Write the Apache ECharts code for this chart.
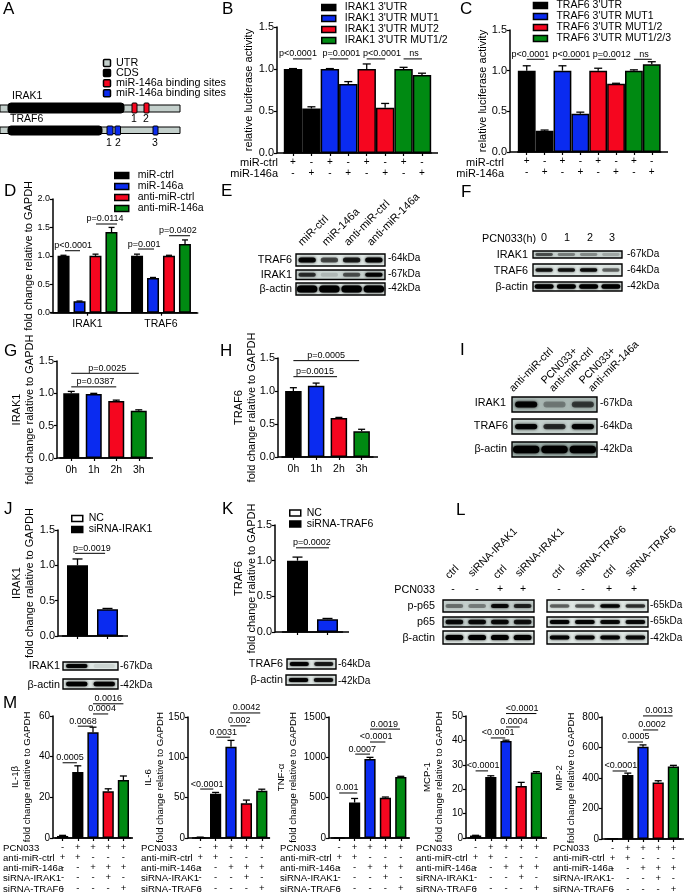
<!DOCTYPE html>
<html><head><meta charset="utf-8">
<style>html,body{margin:0;padding:0;background:#fff}#c{width:685px;height:894px}</style>
<script src="https://cdn.jsdelivr.net/npm/echarts@6/dist/echarts.min.js"></script>
</head><body><div id="c"></div>
<script>
// ---------- colours ----------
const BLACK='#000000', BLUE='#0a2bf0', RED='#f5061f', GREEN='#008a12', GREY='#808080';
const FONT='"Liberation Sans", Arial, sans-serif';

// ---------- B ----------
const bSeries=["IRAK1 3'UTR","IRAK1 3'UTR MUT1","IRAK1 3'UTR MUT2","IRAK1 3'UTR MUT1/2"];
const bValues=[1.0,0.53,1.0,0.82,1.0,0.54,1.0,0.93];
const bErrors=[0.005,0.02,0.005,0.03,0.06,0.05,0.02,0.02];
const bMiRCtrl=['+','-','+','-','+','-','+','-'];
const bMiR146a=['-','+','-','+','-','+','-','+'];
const bBrackets=[[0,1,1.12,'p<0.0001',0.27],[2,3,1.12,'p=0.0001',2.63],[4,5,1.12,'p<0.0001',4.83],[6,7,1.12,'ns',6.57]];
// ---------- C ----------
const cSeries=["TRAF6 3'UTR","TRAF6 3'UTR MUT1","TRAF6 3'UTR MUT1/2","TRAF6 3'UTR MUT1/2/3"];
const cValues=[1.0,0.26,1.0,0.47,1.0,0.84,1.0,1.08];
const cErrors=[0.06,0.01,0.06,0.02,0.03,0.005,0.01,0.03];
const cBrackets=[[0,1,1.14,'p<0.0001',0.2],[2,3,1.14,'p<0.0001',2.5],[4,5,1.14,'p=0.0012',4.76],[6,7,1.14,'ns',6.57]];
// ---------- D ----------
const dSeries=['miR-ctrl','miR-146a','anti-miR-ctrl','anti-miR-146a'];
const dCategories=['IRAK1','TRAF6'];
const dMiRCtrl=[1.0,1.0], dMiR146a=[0.2,0.61], dAntiCtrl=[1.0,1.0], dAnti146a=[1.42,1.21];
const dErrMiRCtrl=[0.01,0.03], dErrMiR146a=[0.005,0.01], dErrAntiCtrl=[0.03,0.01], dErrAnti146a=[0.08,0.07];
const dBrackets=[[-0.306,-0.102,1.09,'p<0.0001',-0.197],[0.116,0.401,1.56,'p=0.0114',0.238],[0.687,0.905,1.12,'p=0.001',0.769],[1.109,1.395,1.354,'p=0.0402',1.231]];
// ---------- G, H ----------
const timeLabels=['0h','1h','2h','3h'];
const gValues=[1.0,0.99,0.88,0.73], gErrors=[0.03,0.01,0.015,0.015];
const gBrackets=[[0,2,1.10,'p=0.0387',1.07],[0,3,1.31,'p=0.0025',1.6]];
const hValues=[1.0,1.08,0.59,0.39], hErrors=[0.05,0.04,0.01,0.03];
const hBrackets=[[0,1.92,1.217,'p=0.0015',0.95],[0,2.89,1.46,'p=0.0005',1.44]];
// ---------- J, K ----------
const jSeries=['NC','siRNA-IRAK1'], kSeries=['NC','siRNA-TRAF6'];
const jValues=[1.0,0.38], jErrors=[0.09,0.01];
const jBrackets=[[-0.08,0.92,1.17,'p=0.0019',0.48]];
const kValues=[1.0,0.18], kErrors=[0.05,0.01];
const kBrackets=[[-0.05,1.05,1.18,'p=0.0002',0.48]];
// ---------- M ----------
const mRowNames=['PCN033','anti-miR-ctrl','anti-miR-146a','siRNA-IRAK1','siRNA-TRAF6'];
const mPCN033=['-','+','+','+','+'];
const mAntiCtrl=['+','+','-','-','-'];
const mAnti146a=['-','-','+','+','+'];
const mSiIRAK1=['-','-','-','+','-'];
const mSiTRAF6=['-','-','-','-','+'];
const il1bValues=[1,32.5,52,23,28.5], il1bErrors=[0.3,3,2.5,1.2,2];
const il1bBrackets=[[0,0.94,37,'0.0005',0.48],[1,2,55,'0.0068',1.34],[2,3,61,'0.0004',2.6],[2,4,66,'0.0016',3]];
const il6Values=[0.8,55,113,43,58.5], il6Errors=[0.3,1.5,8,4,2];
const il6Brackets=[[0,0.85,60.7,'<0.0001',0.45],[1.04,1.95,125,'0.0031',1.5],[1.95,3,139,'0.002',2.53],[1.95,3.9,155,'0.0042',3]];
const tnfValues=[2,440,980,500,755], tnfErrors=[0,50,20,8,10];
const tnfBrackets=[[0,1.17,558,'0.001',0.52],[1.04,2,1040,'0.0007',1.5],[2,3,1190,'<0.0001',2.4],[2,3.95,1350,'0.0019',2.92]];
const mcpValues=[1,25,39.8,21.3,26.8], mcpErrors=[0.1,0.5,0.3,1.5,0.4];
const mcpBrackets=[[0,0.82,27.5,'<0.0001',0.5],[1,1.95,41,'<0.0001',1.48],[2,2.9,45.5,'0.0004',2.53],[2,4,51,'<0.0001',3.06]];
const mipValues=[2,420,605,370,475], mipErrors=[0,12,12,12,8];
const mipBrackets=[[0,0.95,446,'<0.0001',0.55],[1,2,636,'0.0005',1.53],[2,3,715,'0.0002',2.59],[2,3.95,807,'0.0013',3.05]];
// ---------- blot band strengths ----------
const eTRAF6=[0.95,0.6,0.8,0.95], eIRAK1=[0.7,0.12,0.55,0.95], eActin=[1,1,1,1];
const fIRAK1=[0.55,0.35,0.3,0.18], fTRAF6=[0.85,0.85,0.9,0.5], fActin=[1,1,1,1];
const iIRAK1=[0.95,0.3,0.6], iTRAF6=[0.95,0.7,0.95], iActin=[1,1,1];
const jbIRAK1=[0.95,0.08], jbActin=[1,0.95];
const kbTRAF6=[0.95,0.8], kbActin=[0.95,0.85];
const lLeftP=[0.4,0.35,0.9,0.75], lLeftT=[0.9,0.9,0.9,0.85], lLeftA=[1,1,1,1];
const lRightP=[0.5,0.55,0.95,0.7], lRightT=[0.95,0.95,0.9,0.9], lRightA=[0.95,0.95,0.95,0.9];
const lPCN=['-','-','+','+'];

// ---------- builders ----------
const grid=[],xAxis=[],yAxis=[],series=[],legend=[],gfx=[];
const txt=(text,x,y,size,align,extra)=>gfx.push(Object.assign({type:'text',x,y,silent:true,style:{text,fontSize:size,fontFamily:FONT,fill:'#000',align:align||'left',verticalAlign:'middle'}},extra||{}));
const zip=(...rows)=>rows[0].map((_,i)=>rows.map(r=>r[i]).join('\n'));

function panel(p){
  const k=grid.length;
  grid.push({left:p.left,width:p.width,top:p.top,height:p.bottom-p.top,containLabel:false});
  const fx=p.tickSize||11;
  xAxis.push({type:'category',gridIndex:k,data:p.categories,
    axisLine:{lineStyle:{color:'#000',width:1.5}},
    axisTick:{show:true,alignWithLabel:true,length:3,lineStyle:{color:'#000',width:1.2}},
    axisLabel:{interval:0,color:'#000',fontFamily:FONT,fontSize:p.xFont||10.5,lineHeight:p.xLine||12,margin:p.xMargin||5}});
  yAxis.push({type:'value',gridIndex:k,min:0,max:p.max,interval:p.interval,offset:p.left-p.axisX,
    name:p.name,nameLocation:'middle',nameRotate:90,nameGap:p.nameGap,nameMoveOverlap:false,
    nameTextStyle:{color:'#000',fontFamily:FONT,fontSize:p.nameFont||11,lineHeight:p.nameLine||13},
    axisLine:{show:true,lineStyle:{color:'#000',width:1.5}},
    axisTick:{show:true,length:3,lineStyle:{color:'#000',width:1.2}},
    splitLine:{show:false},
    axisLabel:{color:'#000',fontFamily:FONT,fontSize:fx,margin:3,formatter:v=>p.decimals?v.toFixed(p.decimals):String(v)}});
  // bars
  (p.barSeries).forEach(s=>series.push({type:'bar',name:s.name,xAxisIndex:k,yAxisIndex:k,data:s.data,
    barWidth:p.barWidth,barGap:p.barGap,silent:true,
    itemStyle:{color:s.color,borderColor:'#000',borderWidth:p.border||1.5}}));
  const custom=(data,render)=>series.push({type:'custom',xAxisIndex:k,yAxisIndex:k,data:data.map(()=>[0,0]),encode:{x:0,y:1},clip:false,silent:true,renderItem:render,z:5});
  // error bars: [x in category units, value, err]
  custom(p.errors,(params,api)=>{
    const e=p.errors[params.dataIndex]; if(!e[2]) return;
    const band=api.size([1,0])[0], x=api.coord([0,0])[0]+e[0]*band;
    const y0=api.coord([0,e[1]])[1], y1=api.coord([0,e[1]+e[2]])[1], c=p.cap||4;
    const st={stroke:'#000',lineWidth:1.3};
    return {type:'group',children:[
      {type:'line',shape:{x1:x,y1:y0,x2:x,y2:y1},style:st},
      {type:'line',shape:{x1:x-c,y1:y1,x2:x+c,y2:y1},style:st}]};
  });
  // brackets: [from, to, level, text, label position]
  custom(p.brackets,(params,api)=>{
    const b=p.brackets[params.dataIndex];
    const band=api.size([1,0])[0], x0=api.coord([0,0])[0];
    const y=api.coord([0,b[2]])[1];
    return {type:'group',children:[
      {type:'line',shape:{x1:x0+b[0]*band,y1:y,x2:x0+b[1]*band,y2:y},style:{stroke:'#000',lineWidth:1}},
      {type:'text',x:x0+b[4]*band,y:y-0.5,style:{text:b[3],fontSize:p.pFont||9,fontFamily:FONT,fill:'#000',align:'center',verticalAlign:'bottom'}}]};
  });
  // x-axis line run-on past the first and last bar
  custom([0],(params,api)=>{
    const c=params.coordSys;
    return {type:'line',shape:{x1:p.axisX,y1:c.y+c.height,x2:p.axisEnd,y2:c.y+c.height},style:{stroke:'#000',lineWidth:1.5}};
  });
  if(p.legend) legend.push({left:p.legend.left,top:p.legend.top,orient:'vertical',padding:0,itemGap:p.legend.gap||0,icon:'rect',itemWidth:p.legend.w||14,itemHeight:p.legend.h||6,selectedMode:false,
    textStyle:{color:'#000',fontFamily:FONT,fontSize:p.legend.font||10.5,lineHeight:p.legend.line||9.2,padding:[0,0,0,p.legend.textGap||4]},
    itemStyle:{borderColor:'#000',borderWidth:1.5},
    data:p.legend.items});
}
const pick=(vals,colorAt,names)=>names.map((n,s)=>({name:n,color:colorAt(s),data:vals.map((v,i)=>Math.floor(i/(vals.length/names.length))===s?v:null)}));
const errs=(vals,er)=>vals.map((v,i)=>[i,v,er[i]]);
const FOUR=[BLACK,BLUE,RED,GREEN];

// ---------- B ----------
panel({left:283.8,width:147.4,top:27,bottom:153,axisX:277,axisEnd:438,max:1.5,interval:0.5,decimals:1,
  categories:zip(bMiRCtrl,bMiR146a),xLine:10.5,xFont:10,xMargin:4,
  name:'relative luciferase activity',nameGap:22,barWidth:18.4,barGap:'-100%',
  barSeries:pick(bValues,s=>FOUR[s],bSeries),errors:errs(bValues,bErrors),brackets:bBrackets,
  legend:{left:321,top:2,items:bSeries.map(name=>({name}))}});
txt('miR-ctrl',278,163,11,'right'); txt('miR-146a',278,174,11,'right');
// ---------- C ----------
panel({left:517.8,width:142.9,top:30,bottom:152,axisX:510,axisEnd:668,max:1.5,interval:0.5,decimals:1,
  categories:zip(bMiRCtrl,bMiR146a),xLine:10.5,xFont:10,xMargin:4,
  name:'relative luciferase activity',nameGap:21,barWidth:17.8,barGap:'-100%',
  barSeries:pick(cValues,s=>FOUR[s],cSeries),errors:errs(cValues,cErrors),brackets:cBrackets,
  legend:{left:532.7,top:0,items:cSeries.map(name=>({name}))}});
txt('miR-ctrl',504,163,11,'right'); txt('miR-146a',504,174,11,'right');
// ---------- D ----------
const dOff=[-0.327,-0.109,0.109,0.327];
const dAll=[dMiRCtrl,dMiR146a,dAntiCtrl,dAnti146a], dErr=[dErrMiRCtrl,dErrMiR146a,dErrAntiCtrl,dErrAnti146a];
panel({left:50.75,width:147,top:199,bottom:312.7,axisX:53,axisEnd:197,max:2,interval:0.5,decimals:1,tickSize:9,
  categories:dCategories,xFont:10.5,xMargin:5,cap:3,
  name:'fold change relative to GAPDH',nameGap:18,barWidth:12,barGap:'33%',border:1.5,
  barSeries:dSeries.map((n,s)=>({name:n,color:FOUR[s],data:dAll[s]})),
  errors:dAll.flatMap((vals,s)=>vals.map((v,i)=>[i+dOff[s],v,dErr[s][i]])),brackets:dBrackets,
  legend:{left:114,top:170,line:9.7,items:dSeries.map(name=>({name}))}});
// ---------- G ----------
const eachBar=(vals,cols)=>vals.map((v,s)=>({name:'',color:cols[s],data:vals.map((w,i)=>i===s?w:null)}));
panel({left:60,width:90,top:361,bottom:458,axisX:57,axisEnd:153,max:1.5,interval:0.5,decimals:1,
  categories:timeLabels,xFont:10.5,xMargin:6,cap:3.5,
  name:'IRAK1\nfold change ralative to GAPDH',nameGap:21,barWidth:16,barGap:'-100%',
  barSeries:eachBar(gValues,FOUR),errors:errs(gValues,gErrors),brackets:gBrackets});
// ---------- H ----------
panel({left:282,width:91,top:358,bottom:457,axisX:278,axisEnd:378,max:1.5,interval:0.5,decimals:1,
  categories:timeLabels,xFont:10.5,xMargin:6,cap:3.5,
  name:'TRAF6\nfold change ralative to GAPDH',nameGap:20,barWidth:16.5,barGap:'-100%',
  barSeries:eachBar(hValues,FOUR),errors:errs(hValues,hErrors),brackets:hBrackets});
// ---------- J ----------
panel({left:62.5,width:60,top:530,bottom:636,axisX:58,axisEnd:128,max:1.5,interval:0.5,decimals:1,
  categories:['',''],cap:5,
  name:'IRAK1\nfold change ralative to GAPDH',nameGap:22,barWidth:21,barGap:'-100%',
  barSeries:pick(jValues,s=>[BLACK,BLUE][s],jSeries),errors:errs(jValues,jErrors),brackets:jBrackets,
  legend:{left:71,top:513,w:11,h:6,line:10,textGap:1,items:[{name:'NC',itemStyle:{color:'#fff',borderColor:'#000',borderWidth:1.5}},{name:'siRNA-IRAK1',itemStyle:{color:'#000',borderColor:'#000'}}]}});
// ---------- K ----------
panel({left:282.5,width:60,top:525,bottom:632,axisX:275,axisEnd:349,max:1.5,interval:0.5,decimals:1,
  categories:['',''],cap:5,
  name:'TRAF6\nfold change ralative to GAPDH',nameGap:17,barWidth:21,barGap:'-100%',
  barSeries:pick(kValues,s=>[BLACK,BLUE][s],kSeries),errors:errs(kValues,kErrors),brackets:kBrackets,
  legend:{left:289,top:507.5,w:11,h:6,line:10.5,textGap:1,items:[{name:'NC',itemStyle:{color:'#fff',borderColor:'#000',borderWidth:1.5}},{name:'siRNA-TRAF6',itemStyle:{color:'#000',borderColor:'#000'}}]}});
// ---------- M ----------
const FIVE=[GREY,BLACK,BLUE,RED,GREEN];
const mCats=zip(mPCN033,mAntiCtrl,mAnti146a,mSiIRAK1,mSiTRAF6);
function mPanel(o){
  panel({left:o.left,width:o.width,top:o.top,bottom:o.bottom,axisX:o.axisX,axisEnd:o.axisEnd,max:o.max,interval:o.interval,
    categories:mCats,xFont:9.5,xLine:10.2,xMargin:4,tickSize:10,cap:3.5,pFont:9,
    name:o.title+'\nfold change relative to GAPDH',nameGap:o.nameGap,nameFont:9.6,nameLine:12,barWidth:11.2,barGap:'-100%',
    barSeries:eachBar(o.values,FIVE),errors:errs(o.values,o.errors),brackets:o.brackets});
  mRowNames.forEach((n,i)=>txt(n,o.rowX,848.5+i*10.1,9.6));
}
mPanel({left:55,width:76,top:716,bottom:838,axisX:53,axisEnd:133,max:60,interval:20,title:'IL-1β',values:il1bValues,errors:il1bErrors,brackets:il1bBrackets,nameGap:20,rowX:3});
mPanel({left:192.5,width:77,top:717,bottom:838,axisX:188,axisEnd:270,max:150,interval:50,title:'IL-6',values:il6Values,errors:il6Errors,brackets:il6Brackets,nameGap:22,rowX:141});
mPanel({left:331.5,width:77,top:717,bottom:838,axisX:329,axisEnd:410,max:1500,interval:500,title:'TNF-α',values:tnfValues,errors:tnfErrors,brackets:tnfBrackets,nameGap:30,rowX:280});
mPanel({left:468,width:76,top:716,bottom:838,axisX:466,axisEnd:547,max:50,interval:10,title:'MCP-1',values:mcpValues,errors:mcpErrors,brackets:mcpBrackets,nameGap:21,rowX:416});
mPanel({left:605,width:76,top:717,bottom:839,axisX:602,axisEnd:684,max:800,interval:200,title:'MIP-2',values:mipValues,errors:mipErrors,brackets:mipBrackets,nameGap:25,rowX:553});

// ---------- panel letters ----------
[['A',3,9],['B',222,9],['C',460,9],['D',4,191],['E',221,191],['F',461,192],['G',4,351],['H',220,351],['I',460,350],['J',4,509],['K',222,509],['L',456,510],['M',3,703]]
  .forEach(l=>txt(l[0],l[1],l[2],17));

// ---------- panel A: gene diagram ----------
const rect=(x,y,w,h,fill,r,lw)=>gfx.push({type:'rect',silent:true,shape:{x,y,width:w,height:h,r:r||0},style:{fill,stroke:'#000',lineWidth:lw===undefined?1:lw}});
[['UTR','#c3cfcb'],['CDS','#000'],['miR-146a binding sites',RED],['miR-146a binding sites',BLUE]].forEach((l,i)=>{
  rect(103.5,59.5+i*10.1,7,7,l[1],1,1.5); txt(l[0],116,63+i*10.1,10.8);
});
txt('IRAK1',12,96,10.5); txt('TRAF6',10,119,10.5);
rect(0,105,180,7,'#c3cfcb');
rect(8,103,116,10,'#000',3);
rect(132,103,5,10,RED,1); rect(144,103,5,10,RED,1);
txt('1',134,119,10.5,'center'); txt('2',146,119,10.5,'center');
rect(0,127,180,6.5,'#c3cfcb');
rect(8,126,94,9,'#000',3);
rect(107,126,6,9,BLUE,1); rect(115,126,5.5,9,BLUE,1); rect(153,126,5,9,BLUE,1);
txt('1',109,143,10.5,'center'); txt('2',118,143,10.5,'center'); txt('3',155,143,10.5,'center');

// ---------- western blots ----------
function blot(x1,y1,x2,y2,bands,o){
  o=o||{};
  const w=x2-x1,h=y2-y1,n=bands.length,lane=w/n;
  gfx.push({type:'rect',silent:true,shape:{x:x1,y:y1,width:w,height:h},style:{fill:o.bg||'#dfe7e4',stroke:'none'}});
  bands.forEach((a,i)=>{
    const bw=lane*(o.bw||0.78),bh=h*(o.bh||0.42);
    gfx.push({type:'rect',silent:true,shape:{x:x1+lane*(i+0.5)-bw/2,y:y1+h/2-bh/2,width:bw,height:bh,r:bh/2},
      style:{fill:`rgba(0,0,0,${a})`,shadowBlur:3,shadowColor:`rgba(0,0,0,${a})`}});
  });
  gfx.push({type:'rect',silent:true,shape:{x:x1,y:y1,width:w,height:h},style:{fill:'none',stroke:'#000',lineWidth:1.4}});
}
const rot=(text,x,y,size)=>txt(text,x,y,size||11,'left',{rotation:Math.PI/4,style:{text,fontSize:size||11,fontFamily:FONT,fill:'#000',align:'left',verticalAlign:'bottom'}});

// E
blot(296,254,385,266,eTRAF6); blot(296,270,385,279.5,eIRAK1,{bg:'#c9d3d0'}); blot(296,283,385,295,eActin,{bh:0.6,bw:0.92});
txt('TRAF6',292,260,10.8,'right'); txt('IRAK1',292,275,10.8,'right'); txt('β-actin',292,289,10.8,'right');
txt('-64kDa',388,258.5,10,'left'); txt('-67kDa',388,274,10); txt('-42kDa',388,288,10);
rot('miR-ctrl',304,248); rot('miR-146a',328,248); rot('anti-miR-ctrl',350,248); rot('anti-miR-146a',373,248);
// F
blot(533,251,622,258,fIRAK1,{bg:'#c6d0cd',bh:0.4}); blot(533,264,622,276,fTRAF6,{bh:0.28}); blot(533,282,622,291,fActin,{bh:0.5,bw:0.85});
txt('IRAK1',528,255,10.8,'right'); txt('TRAF6',528,271,10.8,'right'); txt('β-actin',528,287,10.8,'right');
txt('-67kDa',627,254,10); txt('-64kDa',627,270,10); txt('-42kDa',627,286,10);
txt('PCN033(h)',482,239,10.8);
[['0',544],['1',567],['2',590],['3',612]].forEach(t=>txt(t[0],t[1],238,10.8,'center'));
// I
blot(512,397,597,412,iIRAK1,{bg:'#a9b7b3',bh:0.4}); blot(512,419,597,434,iTRAF6,{bh:0.35,bg:'#c4d0cc'}); blot(512,442,597,457,iActin,{bh:0.5,bw:0.93,bg:'#9fb0ab'});
txt('IRAK1',506,403,10.8,'right'); txt('TRAF6',508,426,10.8,'right'); txt('β-actin',507,449,10.8,'right');
txt('-67kDa',600,403,10); txt('-64kDa',600,426,10); txt('-42kDa',600,449,10);
rot('anti-miR-ctrl',515,394,10.6); rot('PCN033+',547,386,10.6); rot('anti-miR-ctrl',555,394,10.6); rot('PCN033+',585,386,10.6); rot('anti-miR-146a',594,394,10.6);
// J blot
blot(63,662,118,670,jbIRAK1,{bh:0.5}); blot(63,679,118,689,jbActin,{bh:0.45});
txt('IRAK1',60,666,10.8,'right'); txt('β-actin',60,685,10.8,'right');
txt('-67kDa',120,666,10); txt('-42kDa',120,685,10);
// K blot
blot(287,659,336,669,kbTRAF6,{bh:0.4}); blot(286,675,336,685,kbActin,{bh:0.4});
txt('TRAF6',283,664,10.8,'right'); txt('β-actin',283,680,10.8,'right');
txt('-64kDa',338,664,10); txt('-42kDa',338,681,10);
// L
blot(443,600,534,612,lLeftP,{bg:'#c4cfcc',bh:0.35}); blot(443,617,534,627,lLeftT,{bh:0.45,bg:'#c4cfcc'}); blot(443,631,534,644,lLeftA,{bh:0.4});
blot(547,600,648,612,lRightP,{bh:0.3}); blot(547,617,648,627,lRightT,{bh:0.4}); blot(547,631,648,644,lRightA,{bh:0.3});
txt('p-p65',435,606,10.8,'right'); txt('p65',435,622,10.8,'right'); txt('β-actin',435,638,10.8,'right'); txt('PCN033',435,590,10.8,'right');
txt('-65kDa',650,605,10); txt('-65kDa',650,621,10); txt('-42kDa',650,638,10);
[453,477,500,523].forEach((x,i)=>txt(lPCN[i],x,589,10.5,'center'));
[559,583,609,634].forEach((x,i)=>txt(lPCN[i],x,589,10.5,'center'));
rot('ctrl',451,581,10.6); rot('siRNA-IRAK1',474,579,10.6); rot('ctrl',499,581,10.6); rot('siRNA-IRAK1',521,579,10.6);
rot('ctrl',557,581,10.6); rot('siRNA-TRAF6',581,579,10.6); rot('ctrl',608,581,10.6); rot('siRNA-TRAF6',631,579,10.6);

const chart=echarts.init(document.getElementById('c'),null,{renderer:'canvas',width:685,height:894});
chart.setOption({animation:false,backgroundColor:'#fff',textStyle:{fontFamily:FONT},tooltip:{show:false},grid,xAxis,yAxis,series,legend,graphic:{elements:gfx}});
</script>
</body></html>
